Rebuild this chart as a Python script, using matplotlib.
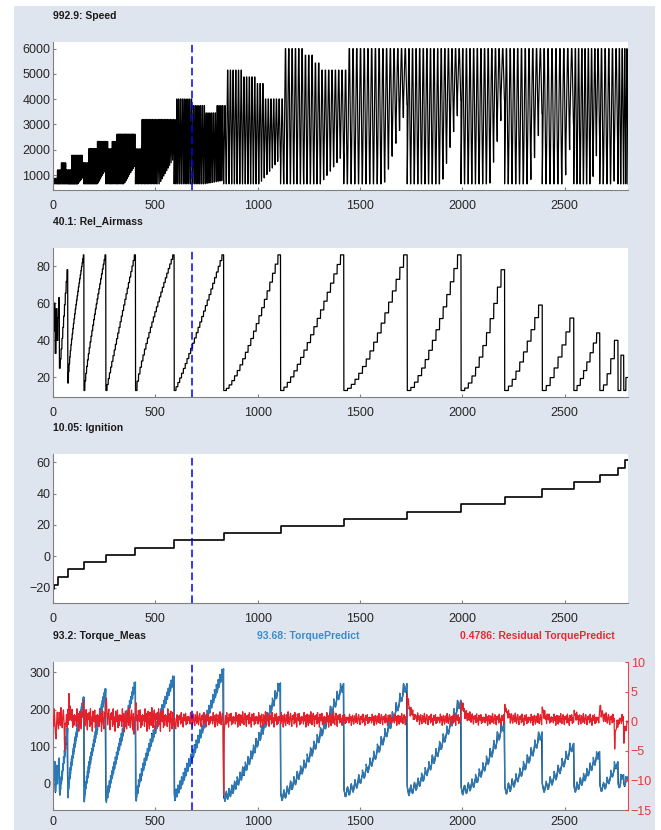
import numpy as np
import matplotlib.pyplot as plt
from matplotlib.patches import Rectangle

plt.rcParams['font.family'] = ['Liberation Sans', 'DejaVu Sans']

n_samples = 2810
cursor_x = 680

# ignition sweep (steps)
ign_start = [0, 2, 6, 24, 72, 151, 258, 403, 592, 834, 1112, 1421, 1731, 1994, 2207, 2391, 2545, 2672, 2761, 2797]
ign_level = [-27, -21, -18, -13.2, -8.2, -3.9, 0.9, 5.4, 10.4, 14.7, 19.3, 24.0, 28.6, 33.1, 37.9, 42.7, 47.4, 51.8, 56.3, 61.3]

# airmass ramps, one per segment
seg_start = [0, 10, 20, 31, 72, 151, 258, 403, 592, 834, 1112, 1421, 1731, 1994, 2207, 2391, 2545, 2672, 2761, 2789]
am_lo = [45, 33, 40, 25, 17, 13, 13, 13, 13, 13, 13, 13, 13, 13, 13, 13, 13, 13, 13, 13]
am_peak = [60, 57, 63, 78, 86, 86, 86, 86, 86, 86, 86, 86, 86, 78, 59, 52, 44, 40, 32, 20]
am_mid = [52, 45, 52, 50, 58, 54, 50, 54, 47, 41, 43, 39, 40, 34, 31, 28, 26, 22, 17, 16]
seg_sweeps = [2, 2, 3, 10, 26, 25, 25, 26, 27, 21, 19, 17, 15, 12, 10, 8, 8, 5, 2, 2]

# torque extremes per segment
tq_low = [10, -20, 0, -30, -37, -48, -50, -46, -44, -46, -44, -34, -31, -29, -27, -22, -22, -20, -10, -5]
tq_peak = [60, 50, 70, 150, 234, 256, 274, 290, 310, 272, 270, 270, 225, 165, 140, 109, 87, 60, 25, 20]
tq_tooth = [15, 15, 15, 18, 20, 20, 20, 20, 22, 22, 22, 22, 22, 22, 22, 22, 20, 18, 12, 12]

# speed sweeps: max level and low end
spd_max_x = [0, 20, 36, 60, 88, 142, 170, 215, 264, 285, 305, 402, 427, 598, 679, 736, 793, 837, 923, 980, 1029, 1114, 1217, 1274, 1306, 1429]
spd_max_lv = [870, 1200, 1480, 1200, 1780, 1480, 2040, 2330, 2040, 2330, 2620, 2040, 3200, 4010, 3750, 3460, 3750, 5150, 4880, 4620, 4010, 6000, 5740, 5430, 5150, 6000]
spd_min = 650
spd_low_end = [650, 650, 650, 650, 1000, 1300, 1500, 1800, 800, 1800, 2000, 4300, 4600, 4800, 4300, 4000, 3400, 3000, 2000, 2000]

# residual
res_pattern = [0.3, -0.6, 0.9, -0.2, 0.5, -1.0, 0.1, 0.7, -0.4, -0.8, 0.6, 0.2, -0.5, 1.0, -0.1, -0.7, 0.4, 0.8,
               -0.3, -0.9, 0.5, 0.0, 0.6, -0.6, 0.9, -0.4, 0.2, -1.0, 0.7, 0.1, -0.2, 0.8, -0.7, 0.3, -0.5, 0.4, -0.1]
res_env_x = [0, 600, 1400]
res_env_amp = [2.0, 1.3, 1.0]
res_offset = 0.3
res_spike_x = [12, 55, 78, 145, 258, 395, 400, 592, 834, 1731, 1994, 2207, 2391, 2545, 2672, 2745, 2790]
res_spike_val = [-3.5, -5.8, 4.0, 4.5, 3.0, -3.2, 3.5, -2.5, -11.6, 3.6, 3.2, 2.4, 1.6, 1.4, 2.8, -4.0, -3.0]
res_spike_len = [3, 4, 4, 4, 5, 4, 5, 6, 2, 18, 18, 15, 12, 10, 10, 8, 12]


def sweep_shape(ph):
    return np.interp(ph, [0, 0.4, 0.55, 0.9, 1.0], [0, 1, 1, 0, 0])


x = np.arange(0, n_samples, 0.25)
speed = np.zeros(len(x))
airmass = np.zeros(len(x))
torque = np.zeros(len(x))

seg_end = seg_start[1:] + [n_samples]
for i in range(len(seg_start)):
    s0, s1 = seg_start[i], seg_end[i]
    n = seg_sweeps[i]
    edges = np.linspace(s0, s1, n + 1)
    lo, pk = am_lo[i], am_peak[i]
    p = np.log((am_mid[i] - lo) / (pk - lo)) / np.log(0.5)
    amp = tq_tooth[i]
    t_lo = tq_low[i] + amp / 2
    t_pk = tq_peak[i] - amp / 2
    for k in range(n):
        a, b = edges[k], edges[k + 1]
        idx = (x >= a) & (x < b)
        t = k / (n - 1)
        am_k = lo + (pk - lo) * t ** p
        hi = spd_max_lv[np.searchsorted(spd_max_x, a, side='right') - 1]
        frac = (a - s0) / (s1 - s0)
        low = spd_min
        if frac > 0.58:
            low = spd_min + (spd_low_end[i] - spd_min) * (frac - 0.58) / 0.42
        sh = sweep_shape((x[idx] - a) / (b - a))
        speed[idx] = low + (hi - low) * sh
        airmass[idx] = am_k
        torque[idx] = t_lo + (t_pk - t_lo) * (am_k - lo) / (pk - lo) + amp * (0.5 - sh)

xr = x[::12]
env = np.array(res_env_amp)[np.searchsorted(res_env_x, xr, side='right') - 1]
resid = res_offset + env * np.resize(res_pattern, len(xr))
for sx, sv, sl in zip(res_spike_x, res_spike_val, res_spike_len):
    after = xr >= sx
    resid[after] += sv * np.exp(-(xr[after] - sx) / sl)
torque_meas = torque[::12] + resid

# ---- figure ----
W, H = 661, 830
fig = plt.figure(figsize=(W / 100, H / 100), dpi=100, facecolor='white')
fig.add_artist(Rectangle((14 / W, 0), (655 - 14) / W, 1 - 6 / H, transform=fig.transFigure,
                         facecolor='#dfe5ef', edgecolor='none', zorder=-10))

left = 53 / W
width = (628 - 53) / W
tops = [42, 248, 454, 662]
bots = [190, 397, 603, 810]
axes = []
for tp, bt in zip(tops, bots):
    ax = fig.add_axes([left, 1 - bt / H, width, (bt - tp) / H])
    ax.set_facecolor('white')
    for side in ['top', 'right']:
        ax.spines[side].set_visible(False)
    for side in ['left', 'bottom']:
        ax.spines[side].set_color('#808080')
        ax.spines[side].set_linewidth(0.8)
    ax.tick_params(direction='in', length=2.5, width=0.8, color='#808080',
                   labelsize=9, labelcolor='#262626')
    ax.tick_params(axis='x', pad=7)
    ax.tick_params(axis='y', pad=2)
    ax.set_xlim(0, n_samples)
    ax.set_xticks([0, 500, 1000, 1500, 2000, 2500])
    axes.append(ax)

ax1, ax2, ax3, ax4 = axes
ax4.tick_params(axis='x', pad=4.5)

ax1.plot(x, speed, color='black', lw=0.85)
ax1.set_ylim(408, 6263)
ax1.set_yticks([1000, 2000, 3000, 4000, 5000, 6000])

ax2.plot(x, airmass, color='black', lw=0.9)
ax2.set_ylim(9.5, 89.7)
ax2.set_yticks([20, 40, 60, 80])

ax3.step(ign_start + [n_samples], ign_level + [ign_level[-1]], where='post', color='black', lw=1.2)
ax3.set_ylim(-29.8, 65.3)
ax3.set_yticks([-20, 0, 20, 40, 60])

ax4.plot(xr, torque_meas, color='black', lw=0.9)
ax4.plot(x, torque, color='#2a7ab9', lw=1.0)
ax4.set_ylim(-70, 328)
ax4.set_yticks([0, 100, 200, 300])

ax4r = ax4.twinx()
ax4r.set_ylim(-15, 10)
ax4r.set_yticks([-15, -10, -5, 0, 5, 10])
for side in ['top', 'left', 'bottom']:
    ax4r.spines[side].set_visible(False)
ax4r.spines['right'].set_color('#e8474a')
ax4r.spines['right'].set_linewidth(0.8)
ax4r.tick_params(direction='in', length=2.5, width=0.8, color='#e8474a',
                 labelsize=9, labelcolor='#e8373a', pad=2)
ax4r.plot(xr, resid, color='#e4202a', lw=0.9)

for ax in [ax1, ax2, ax3, ax4r]:
    ax.axvline(cursor_x, color='#0000ff', lw=1.1, ls=(0, (5, 2.5)), zorder=10)

title_kw = dict(fontsize=7.5, fontweight='bold', va='center', ha='left')
fig.text(53 / W, 1 - 16 / H, '992.9: Speed', color='#1a1a1a', **title_kw)
fig.text(53 / W, 1 - 222 / H, '40.1: Rel_Airmass', color='#1a1a1a', **title_kw)
fig.text(53 / W, 1 - 428 / H, '10.05: Ignition', color='#1a1a1a', **title_kw)
fig.text(53 / W, 1 - 636 / H, '93.2: Torque_Meas', color='#1a1a1a', **title_kw)
fig.text(257 / W, 1 - 636 / H, '93.68: TorquePredict', color='#3b8ccb', **title_kw)
fig.text(460 / W, 1 - 636 / H, '0.4786: Residual TorquePredict', color='#e8292e', **title_kw)

fig.savefig('out.png', dpi=100, facecolor='white')
